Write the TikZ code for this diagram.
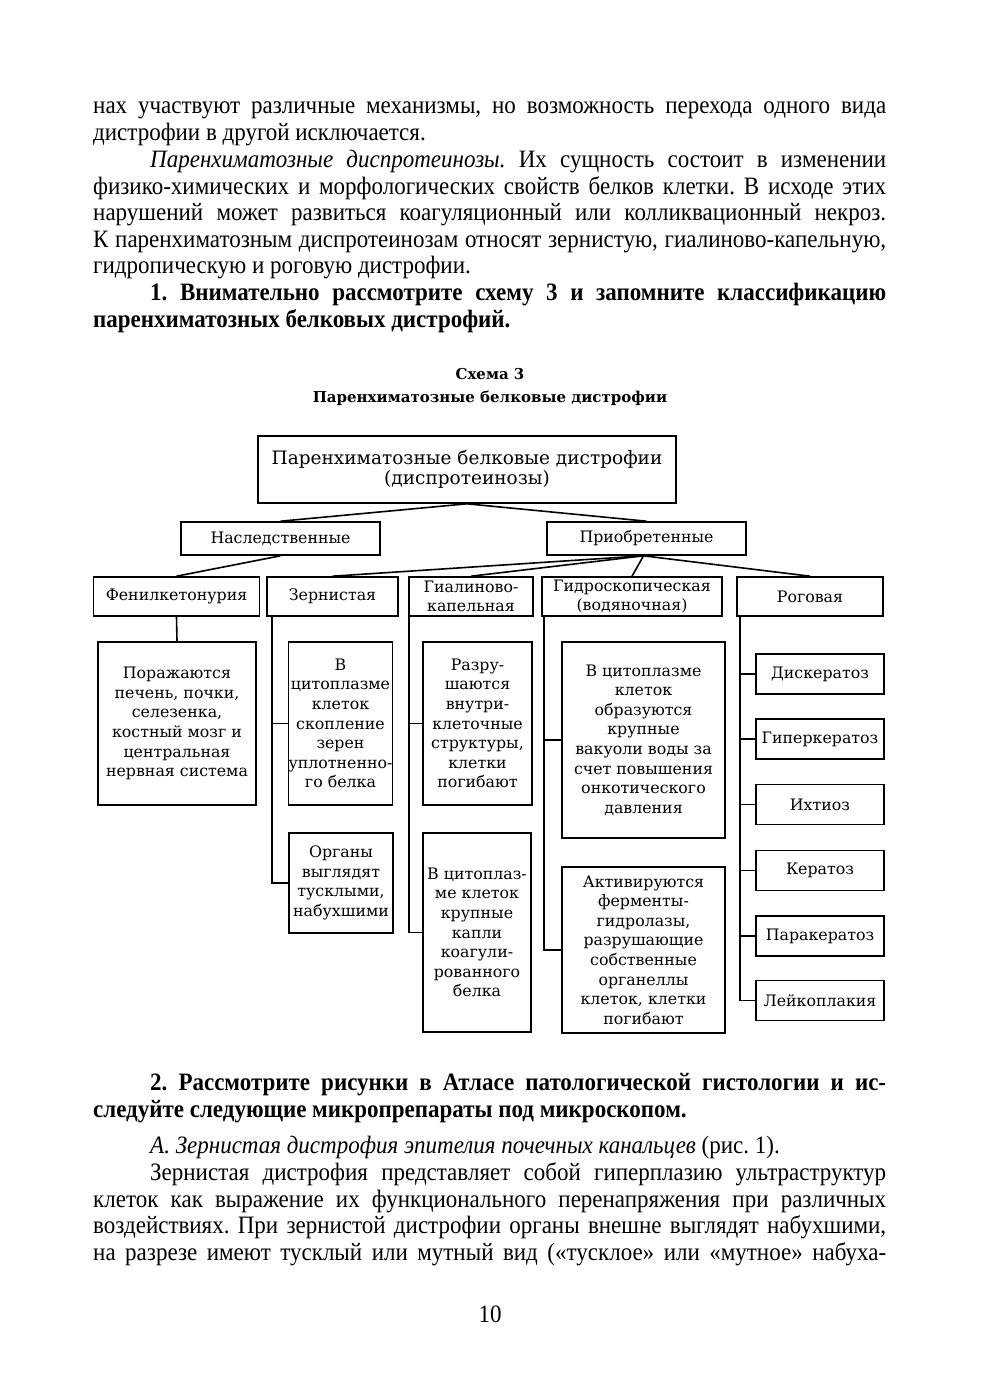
\documentclass[tikz,border=0pt]{standalone}
\usepackage{fontspec}
\setmainfont{Liberation Serif}[FakeStretch=0.92]
\newfontfamily\schemefont{DejaVu Serif}
\usetikzlibrary{positioning}
\frenchspacing

\newcommand{\jline}[2]{\makebox[#1pt][s]{#2}}

\tikzset{
  txt/.style={anchor=mid west, inner sep=0pt, font=\fontsize{25}{27}\selectfont},
  box/.style={draw, line width=1.6pt, inner sep=0pt, align=center,
    font=\schemefont\fontsize{15.8}{19.6}\selectfont},
  link/.style={line width=1.6pt}
}

\begin{document}
\begin{tikzpicture}[x=1pt,y=-1pt]
\useasboundingbox[fill=white] (0,0) rectangle (980,1386);

% text above the scheme
\node[txt] (p1) at (93,111) {\jline{793}{нах участвуют различные механизмы, но возможность перехода одного вида}};
\node[txt] (p2) at (93,138) {дистрофии в другой исключается.};
\node[txt] (p3) at (150,165) {\jline{736}{\textit{Паренхиматозные диспротеинозы.} Их сущность состоит в изменении}};
\node[txt] (p4) at (93,192) {\jline{793}{физико-химических и морфологических свойств белков клетки. В исходе этих}};
\node[txt] (p5) at (93,218) {\jline{793}{нарушений может развиться коагуляционный или колликвационный некроз.}};
\node[txt] (p6) at (93,245) {\jline{793}{К паренхиматозным диспротеинозам относят зернистую, гиалиново-капельную,}};
\node[txt] (p7) at (93,271) {гидропическую и роговую дистрофии.};
\node[txt, font=\fontsize{25}{27}\selectfont\bfseries] (p8) at (150,298) {\jline{736}{1. Внимательно рассмотрите схему 3 и запомните классификацию}};
\node[txt, font=\fontsize{25}{27}\selectfont\bfseries] (p9) at (93,325) {паренхиматозных белковых дистрофий.};

% caption
\node[inner sep=0pt, anchor=mid, font=\schemefont\fontsize{15}{19}\selectfont\bfseries] (cap1) at (490,377) {Схема 3};
\node[inner sep=0pt, anchor=mid, font=\schemefont\fontsize{15}{19}\selectfont\bfseries] (cap2) at (490,400) {Паренхиматозные белковые дистрофии};

% scheme
\node[box, font=\schemefont\fontsize{18.5}{20}\selectfont, minimum width=418pt, minimum height=67pt] (top) at (467,469.5) {Паренхиматозные белковые дистрофии\\(диспротеинозы)};
\node[box, minimum width=199pt, minimum height=33pt] (hered) at (280.5,538.5) {Наследственные};
\node[box, minimum width=199pt, minimum height=33pt] (acq) at (646.5,538.5) {Приобретенные};

\node[box, minimum width=166pt, minimum height=39pt] (phen) at (176.5,596.5) {Фенилкетонурия};
\node[box, minimum width=131pt, minimum height=39pt] (gran) at (332.5,596.5) {Зернистая};
\node[box, minimum width=124pt, minimum height=39pt] (hyal) at (471,596.5) {Гиалиново-\\капельная};
\node[box, minimum width=180pt, minimum height=39pt] (hydro) at (632,596.5) {Гидроскопическая\\(водяночная)};
\node[box, minimum width=146pt, minimum height=39pt] (horn) at (810,596.5) {Роговая};

\node[box, minimum width=158pt, minimum height=163pt] (porazh) at (177,723.5) {Поражаются\\печень,\ почки,\\селезенка,\\костный мозг и\\центральная\\нервная система};
\node[box, minimum width=103pt, minimum height=163pt] (gs1) at (340.5,723.5) {В\\цитоплазме\\клеток\\скопление\\зерен\\уплотненно-\\го белка};
\node[box, minimum width=104pt, minimum height=100pt] (gs2) at (341,883) {Органы\\выглядят\\тусклыми,\\набухшими};
\node[box, minimum width=109pt, minimum height=163pt] (hs1) at (477.5,723.5) {Разру-\\шаются\\внутри-\\клеточные\\структуры,\\клетки\\погибают};
\node[box, minimum width=108pt, minimum height=199pt] (hs2) at (477,932.5) {В цитоплаз-\\ме клеток\\крупные\\капли\\коагули-\\рованного\\белка};
\node[box, minimum width=163pt, minimum height=196pt] (ds1) at (643.5,740) {В цитоплазме\\клеток\\образуются\\крупные\\вакуоли воды за\\счет повышения\\онкотического\\давления};
\node[box, minimum width=163pt, minimum height=166pt] (ds2) at (643.5,950) {Активируются\\ферменты-\\гидролазы,\\разрушающие\\собственные\\органеллы\\клеток,\ клетки\\погибают};

\node[box, minimum width=128pt, minimum height=40pt] (dysk) at (820,674) {Дискератоз};
\node[box, minimum width=128pt, minimum height=40pt] (hyper) at (820,739) {Гиперкератоз};
\node[box, minimum width=128pt, minimum height=40pt] (ichth) at (820,804.5) {Ихтиоз};
\node[box, minimum width=128pt, minimum height=40pt] (kerat) at (820,870.5) {Кератоз};
\node[box, minimum width=128pt, minimum height=40pt] (parak) at (820,936) {Паракератоз};
\node[box, minimum width=128pt, minimum height=40pt] (leuk) at (820,1000.5) {Лейкоплакия};

\draw[link] (top.south) -- (hered.north);
\draw[link] (top.south) -- (acq.north);
\draw[link] (hered.south) -- (phen.north);
\foreach \n in {gran,hyal,hydro,horn}
  \draw[link] ([xshift=-3pt]acq.south) -- (\n.north);
\draw[link] (phen.south) -- (porazh.north);
\draw[link] ([xshift=6pt]gran.south west) |- (gs1.west);
\draw[link] ([xshift=6pt]gran.south west) |- (gs2.west);
\draw[link] ([xshift=1pt]hyal.south west) |- (hs1.west);
\draw[link] ([xshift=1pt]hyal.south west) |- (hs2.west);
\draw[link] ([xshift=3pt]hydro.south west) |- (ds1.west);
\draw[link] ([xshift=3pt]hydro.south west) |- (ds2.west);
\foreach \n in {dysk,hyper,ichth,kerat,parak,leuk}
  \draw[link] ([xshift=4pt]horn.south west) |- (\n.west);

% text below the scheme
\node[txt, font=\fontsize{25}{27}\selectfont\bfseries] (q1) at (150,1088) {\jline{736}{2. Рассмотрите рисунки в Атласе патологической гистологии и ис-}};
\node[txt, font=\fontsize{25}{27}\selectfont\bfseries] (q2) at (93,1115) {следуйте следующие микропрепараты под микроскопом.};
\node[txt] (q3) at (150,1151) {\textit{А. Зернистая дистрофия эпителия почечных канальцев} (рис. 1).};
\node[txt] (q4) at (150,1178) {\jline{736}{Зернистая дистрофия представляет собой гиперплазию ультраструктур}};
\node[txt] (q5) at (93,1205) {\jline{793}{клеток как выражение их функционального перенапряжения при различных}};
\node[txt] (q6) at (93,1231) {\jline{793}{воздействиях. При зернистой дистрофии органы внешне выглядят набухшими,}};
\node[txt] (q7) at (93,1258) {\jline{793}{на разрезе имеют тусклый или мутный вид («тусклое» или «мутное» набуха-}};
\node[inner sep=0pt, anchor=mid, font=\fontsize{25}{27}\selectfont] (pg) at (490,1320) {10};
\end{tikzpicture}
\end{document}
